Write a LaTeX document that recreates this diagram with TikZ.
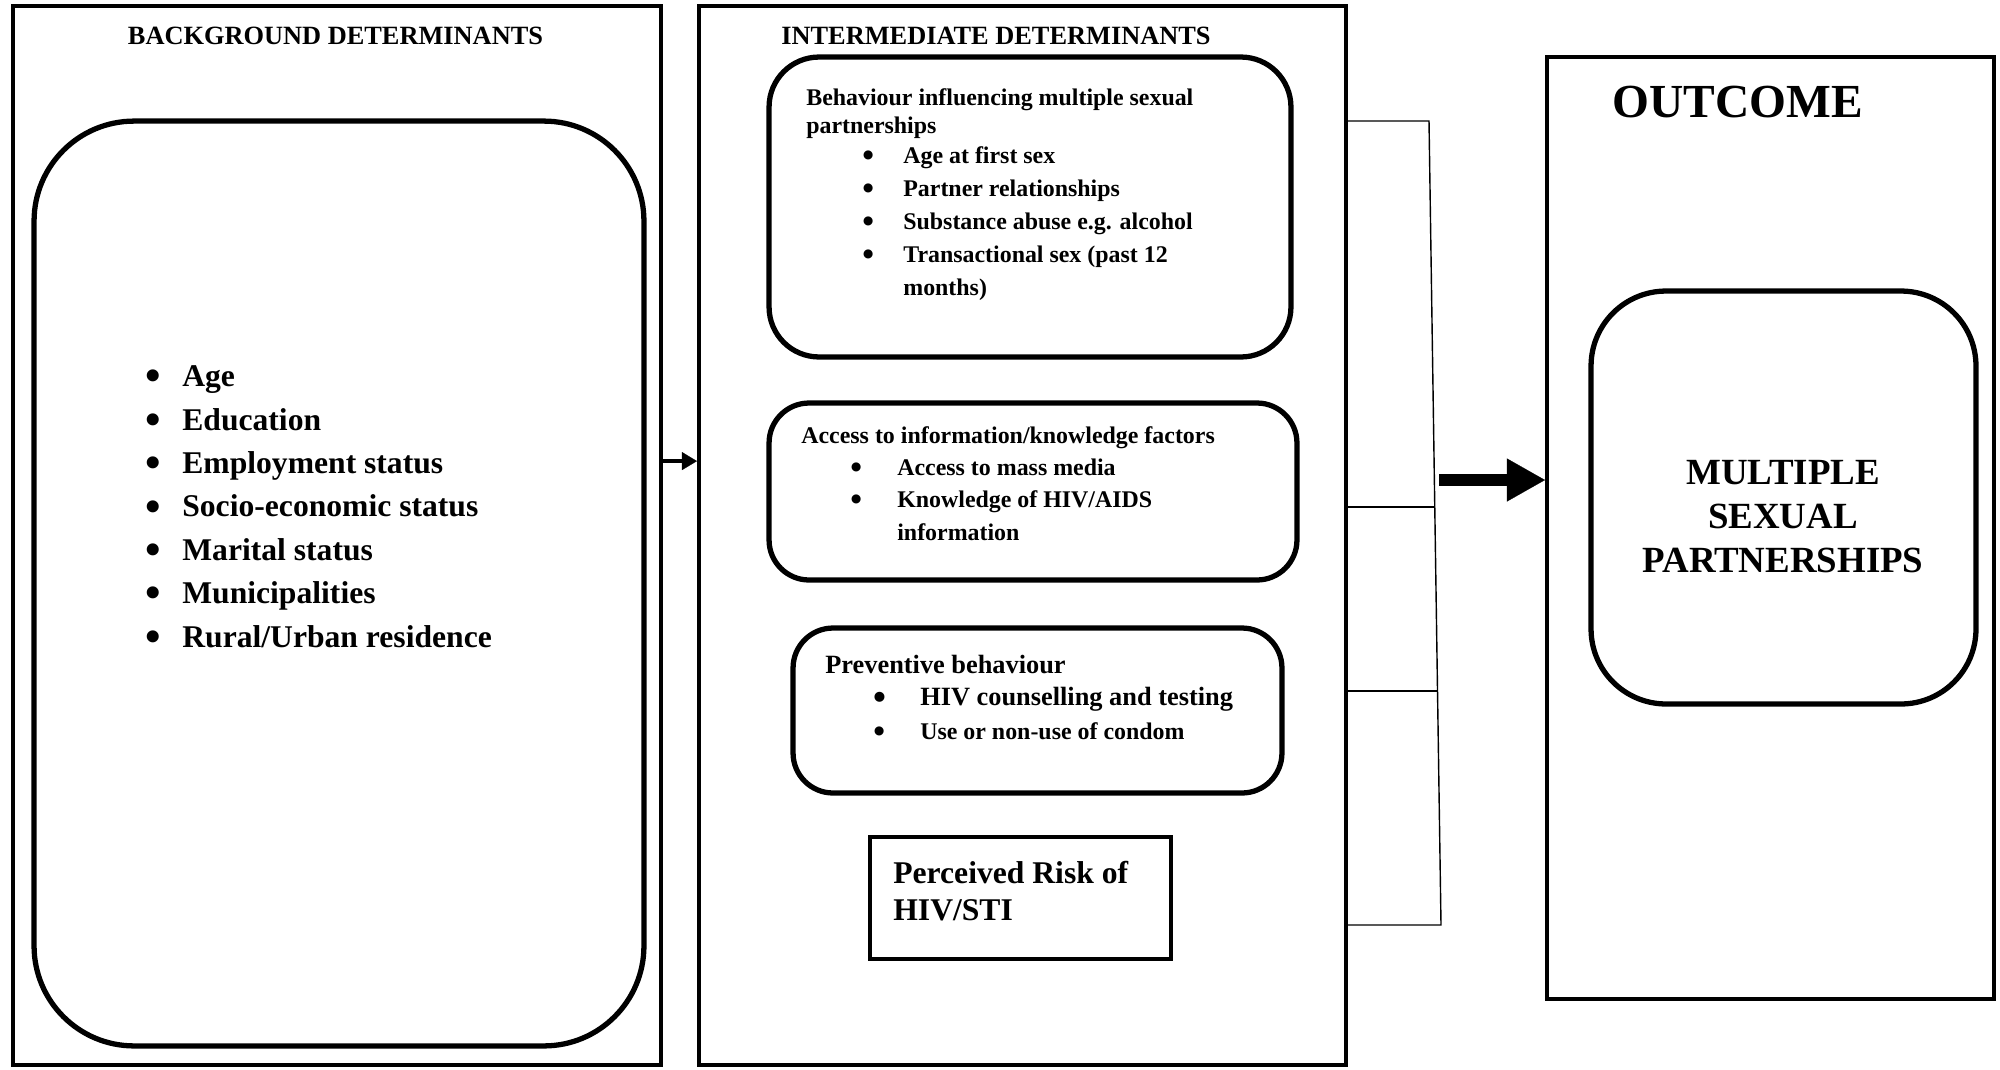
\documentclass[tikz,border=0pt]{standalone}
\usepackage{fontspec}
\setmainfont{Liberation Serif}
\usetikzlibrary{arrows.meta, positioning, calc}

\newcommand{\fsz}[2]{\fontsize{#1}{#2}\selectfont\bfseries}
\newcommand{\bl}[1]{\makebox[#1][l]{\raisebox{-0.13em}{\scalebox{1.4}{\textbullet}}}}

\begin{document}
\begin{tikzpicture}[
    x             = 0.02cm,
    y             = -0.02cm,
    panel/.style  = {draw, line width=2.4pt, inner sep=0pt},
    rbox/.style   = {draw, line width=3pt, inner sep=0pt, rounded corners=#1},
    rbox/.default = 0.8cm,
    sqbox/.style  = {draw, line width=2.6pt, inner sep=0pt},
    txt/.style    = {inner sep=0pt, align=left, anchor=west},
    brk/.style    = {line width=0.8pt},
    arr/.style    = {-{Triangle[length=0.3cm, width=0.36cm, line width=0.1pt]}, line width=2.6pt},
    bigarr/.style = {-{Triangle[length=0.76cm, width=0.86cm, line width=0.1pt]}, line width=6.5pt},
  ]
  \useasboundingbox (0,0) rectangle (2000,1069);

  % background determinants
  \node[panel, minimum width=12.96cm, minimum height=21.18cm] (bgOuter) at (337,535.5) {};
  \node[font=\fsz{15}{18}] (bgHead) at (335.5,36) {BACKGROUND DETERMINANTS};
  \node[rbox=2cm, minimum width=12.2cm, minimum height=18.5cm] (bgInner) at (339,583.5) {};
  \node[txt, font=\fsz{18}{24.7}] (bgList) at (145,508.5)
       {\bl{0.74cm}Age\\ \bl{0.74cm}Education\\ \bl{0.74cm}Employment status\\
        \bl{0.74cm}Socio-economic status\\ \bl{0.74cm}Marital status\\
        \bl{0.74cm}Municipalities\\ \bl{0.74cm}Rural/Urban residence};

  % intermediate determinants
  \node[panel, minimum width=12.94cm, minimum height=21.18cm] (interOuter) at (1022.5,535.5) {};
  \node[font=\fsz{15}{18}] (interHead) at (996,36) {INTERMEDIATE DETERMINANTS};

  \node[rbox=1cm, minimum width=10.44cm, minimum height=6cm] (behav) at (1030,207) {};
  \node[txt, font=\fsz{13.6}{16}] (behavHead) at (806,113.5)
       {Behaviour influencing multiple sexual\\partnerships};
  \node[txt, font=\fsz{13.6}{18.8}] (behavList) at (862,223.5)
       {\bl{0.82cm}Age at first sex\\ \bl{0.82cm}Partner relationships\\
        \bl{0.82cm}Substance abuse e.g. alcohol\\ \bl{0.82cm}Transactional sex (past 12\\
        \hspace*{0.82cm}months)};

  \node[rbox, minimum width=10.56cm, minimum height=3.54cm] (access) at (1033,491.5) {};
  \node[txt, font=\fsz{13.6}{16}] (accessHead) at (801,437.5) {Access to information/knowledge factors};
  \node[txt, font=\fsz{13.6}{18.5}] (accessList) at (850,499.5)
       {\bl{0.94cm}Access to mass media\\ \bl{0.94cm}Knowledge of HIV/AIDS\\
        \hspace*{0.94cm}information};

  \node[rbox, minimum width=9.78cm, minimum height=3.3cm] (prev) at (1037.5,710.5) {};
  \node[txt, font=\fsz{15}{18}] (prevHead) at (825,664.5) {Preventive behaviour};
  \node[txt, font=\fsz{15}{19.2}] (prevList) at (873,715)
       {\bl{0.94cm}HIV counselling and testing\\
        {\fsz{13.6}{19.2}\bl{0.94cm}Use or non-use of condom}};

  \node[sqbox, minimum width=6.02cm, minimum height=2.44cm] (risk) at (1020.5,898) {};
  \node[txt, font=\fsz{18}{21}] (riskText) at (893,891) {Perceived Risk of\\HIV/STI};

  % outcome
  \node[panel, minimum width=8.94cm, minimum height=18.84cm] (outOuter) at (1770.5,528) {};
  \node[font=\fsz{27}{30}] (outHead) at (1738,102) {OUTCOME};
  \node[rbox=1.5cm, minimum width=7.7cm, minimum height=8.26cm] (outInner) at (1783.5,497.5) {};
  \node[font=\fsz{21}{25}, align=center] (outText) at (1783,517) {MULTIPLE\\SEXUAL\\PARTNERSHIPS};

  % connectors
  \draw[arr] ($(bgOuter.north east)!0.43!(bgOuter.south east)$)
          -- ($(interOuter.north west)!0.43!(interOuter.south west)$);

  \coordinate (brTop) at (1429,121);
  \coordinate (brBot) at (1441,925);
  \coordinate (brA) at ($(brTop)!0.48!(brBot)$);
  \coordinate (brB) at ($(brTop)!0.709!(brBot)$);
  \draw[brk] (interOuter.east |- brTop) -- (brTop) -- (brBot) -- (interOuter.east |- brBot);
  \draw[brk] (interOuter.east |- brA) -- (brA);
  \draw[brk] (interOuter.east |- brB) -- (brB);

  \coordinate (joinC) at (1439,480);
  \draw[bigarr] (joinC) -- (joinC -| outOuter.west);
\end{tikzpicture}
\end{document}
